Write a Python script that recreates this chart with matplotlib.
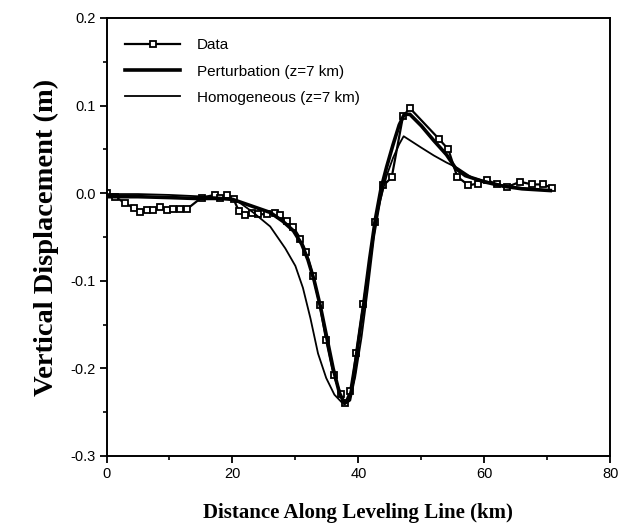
import matplotlib
matplotlib.use('Agg')
import matplotlib.pyplot as plt
from matplotlib.ticker import MultipleLocator

# leveling data (km, m)
data_x = [0, 1.3, 2.9, 4.3, 5.3, 6.4, 7.4, 8.5, 9.6, 10.6, 11.7, 12.8,
          15.1, 17.2, 18.0, 19.1, 20.2, 21.0, 22.0, 23.1, 24.1, 25.5, 26.8, 27.5,
          28.6, 29.7, 30.8, 31.7, 32.8, 33.9, 34.9, 36.1, 37.2, 37.9, 38.7, 39.7, 40.8,
          42.7, 44.0, 45.3, 47.1, 48.2,
          52.8, 54.3, 55.7, 57.5, 59.0, 60.5, 62.0, 63.6, 65.7, 67.6, 69.3, 70.8]
data_y = [0, -0.004, -0.011, -0.017, -0.021, -0.019, -0.019, -0.016, -0.019, -0.018, -0.018, -0.018,
          -0.005, -0.002, -0.005, -0.002, -0.007, -0.020, -0.025, -0.023, -0.024, -0.024, -0.023, -0.025,
          -0.032, -0.039, -0.052, -0.067, -0.094, -0.128, -0.168, -0.208, -0.229, -0.240, -0.226, -0.182, -0.127,
          -0.033, 0.009, 0.018, 0.088, 0.097,
          0.062, 0.050, 0.019, 0.009, 0.011, 0.015, 0.010, 0.007, 0.013, 0.010, 0.010, 0.006]

# perturbation model (z=7 km)
pert_x = [0, 5, 10, 14, 18, 20, 22, 24, 26, 28, 29.7, 31, 32, 33, 34, 35, 36, 37, 37.8,
          38.6, 39.2, 39.8, 40.8, 41.8, 42.7, 43.6, 44.5, 45.5, 46.5, 47.3, 48.2,
          50, 52, 54, 55.5, 57, 60, 63, 66, 70.5]
pert_y = [-0.004, -0.004, -0.005, -0.006, -0.006, -0.007, -0.012, -0.017, -0.022, -0.032, -0.043,
          -0.058, -0.076, -0.100, -0.130, -0.165, -0.200, -0.228, -0.240,
          -0.236, -0.215, -0.180, -0.130, -0.075, -0.030, 0.005, 0.030, 0.055, 0.078, 0.090, 0.090,
          0.077, 0.060, 0.044, 0.028, 0.020, 0.013, 0.008, 0.005, 0.003]

# homogeneous model (z=7 km)
hom_x = [0, 5, 10, 13, 16, 19, 21, 23.3, 26.0, 28.4, 30.0, 31.2, 32.4, 33.6, 34.9, 36.2,
         37.4, 38.4, 39.5, 40.5, 41.5, 42.5, 43.5, 44.5, 45.5, 46.5, 47.2,
         50, 52, 54, 55.7, 58, 60, 63, 66, 70.5]
hom_y = [-0.001, -0.001, -0.002, -0.003, -0.004, -0.006, -0.010, -0.022, -0.038, -0.063, -0.083,
         -0.108, -0.143, -0.183, -0.211, -0.230,
         -0.239, -0.236, -0.210, -0.165, -0.110, -0.050, -0.008, 0.020, 0.040, 0.056, 0.065,
         0.052, 0.043, 0.035, 0.029, 0.018, 0.014, 0.009, 0.006, 0.003]

fig = plt.figure(figsize=(6.21, 5.29), dpi=100)
ax = fig.add_axes([0.1715, 0.138, 0.811, 0.828])

ax.plot(data_x, data_y, color='black', lw=1.6, marker='s', ms=5,
        mfc='white', mec='black', mew=1.3, label='Data')
ax.plot(pert_x, pert_y, color='black', lw=2.6, label='Perturbation (z=7 km)')
ax.plot(hom_x, hom_y, color='black', lw=1.3, label='Homogeneous (z=7 km)')

ax.set_xlim(0, 80)
ax.set_ylim(-0.3, 0.2)
ax.xaxis.set_major_locator(MultipleLocator(20))
ax.xaxis.set_minor_locator(MultipleLocator(10))
ax.yaxis.set_minor_locator(MultipleLocator(0.05))
ax.set_yticks([-0.3, -0.2, -0.1, 0.0, 0.1, 0.2])
ax.set_yticklabels(['-0.3', '-0.2', '-0.1', '0.0', '0.1', '0.2'])
ax.tick_params(which='major', direction='out', length=5, width=1.3,
               labelsize=10.5, pad=3)
ax.tick_params(which='minor', direction='out', length=3, width=1.2)
for lbl in ax.get_xticklabels() + ax.get_yticklabels():
    lbl.set_family('Liberation Sans')
for s in ax.spines.values():
    s.set_linewidth(1.4)

ax.set_xlabel('Distance Along Leveling Line (km)', family='Liberation Serif',
              fontweight='bold', fontsize=15, labelpad=16)
ax.set_ylabel('Vertical Displacement (m)', family='Liberation Serif',
              fontweight='bold', fontsize=20.5, labelpad=8)

leg = ax.legend(loc='upper left', frameon=False, prop={'family': 'Liberation Sans', 'size': 11},
                handlelength=3.6, handletextpad=1.1, labelspacing=0.8,
                bbox_to_anchor=(0.01, 0.985))

fig.savefig('out.png', dpi=100)
